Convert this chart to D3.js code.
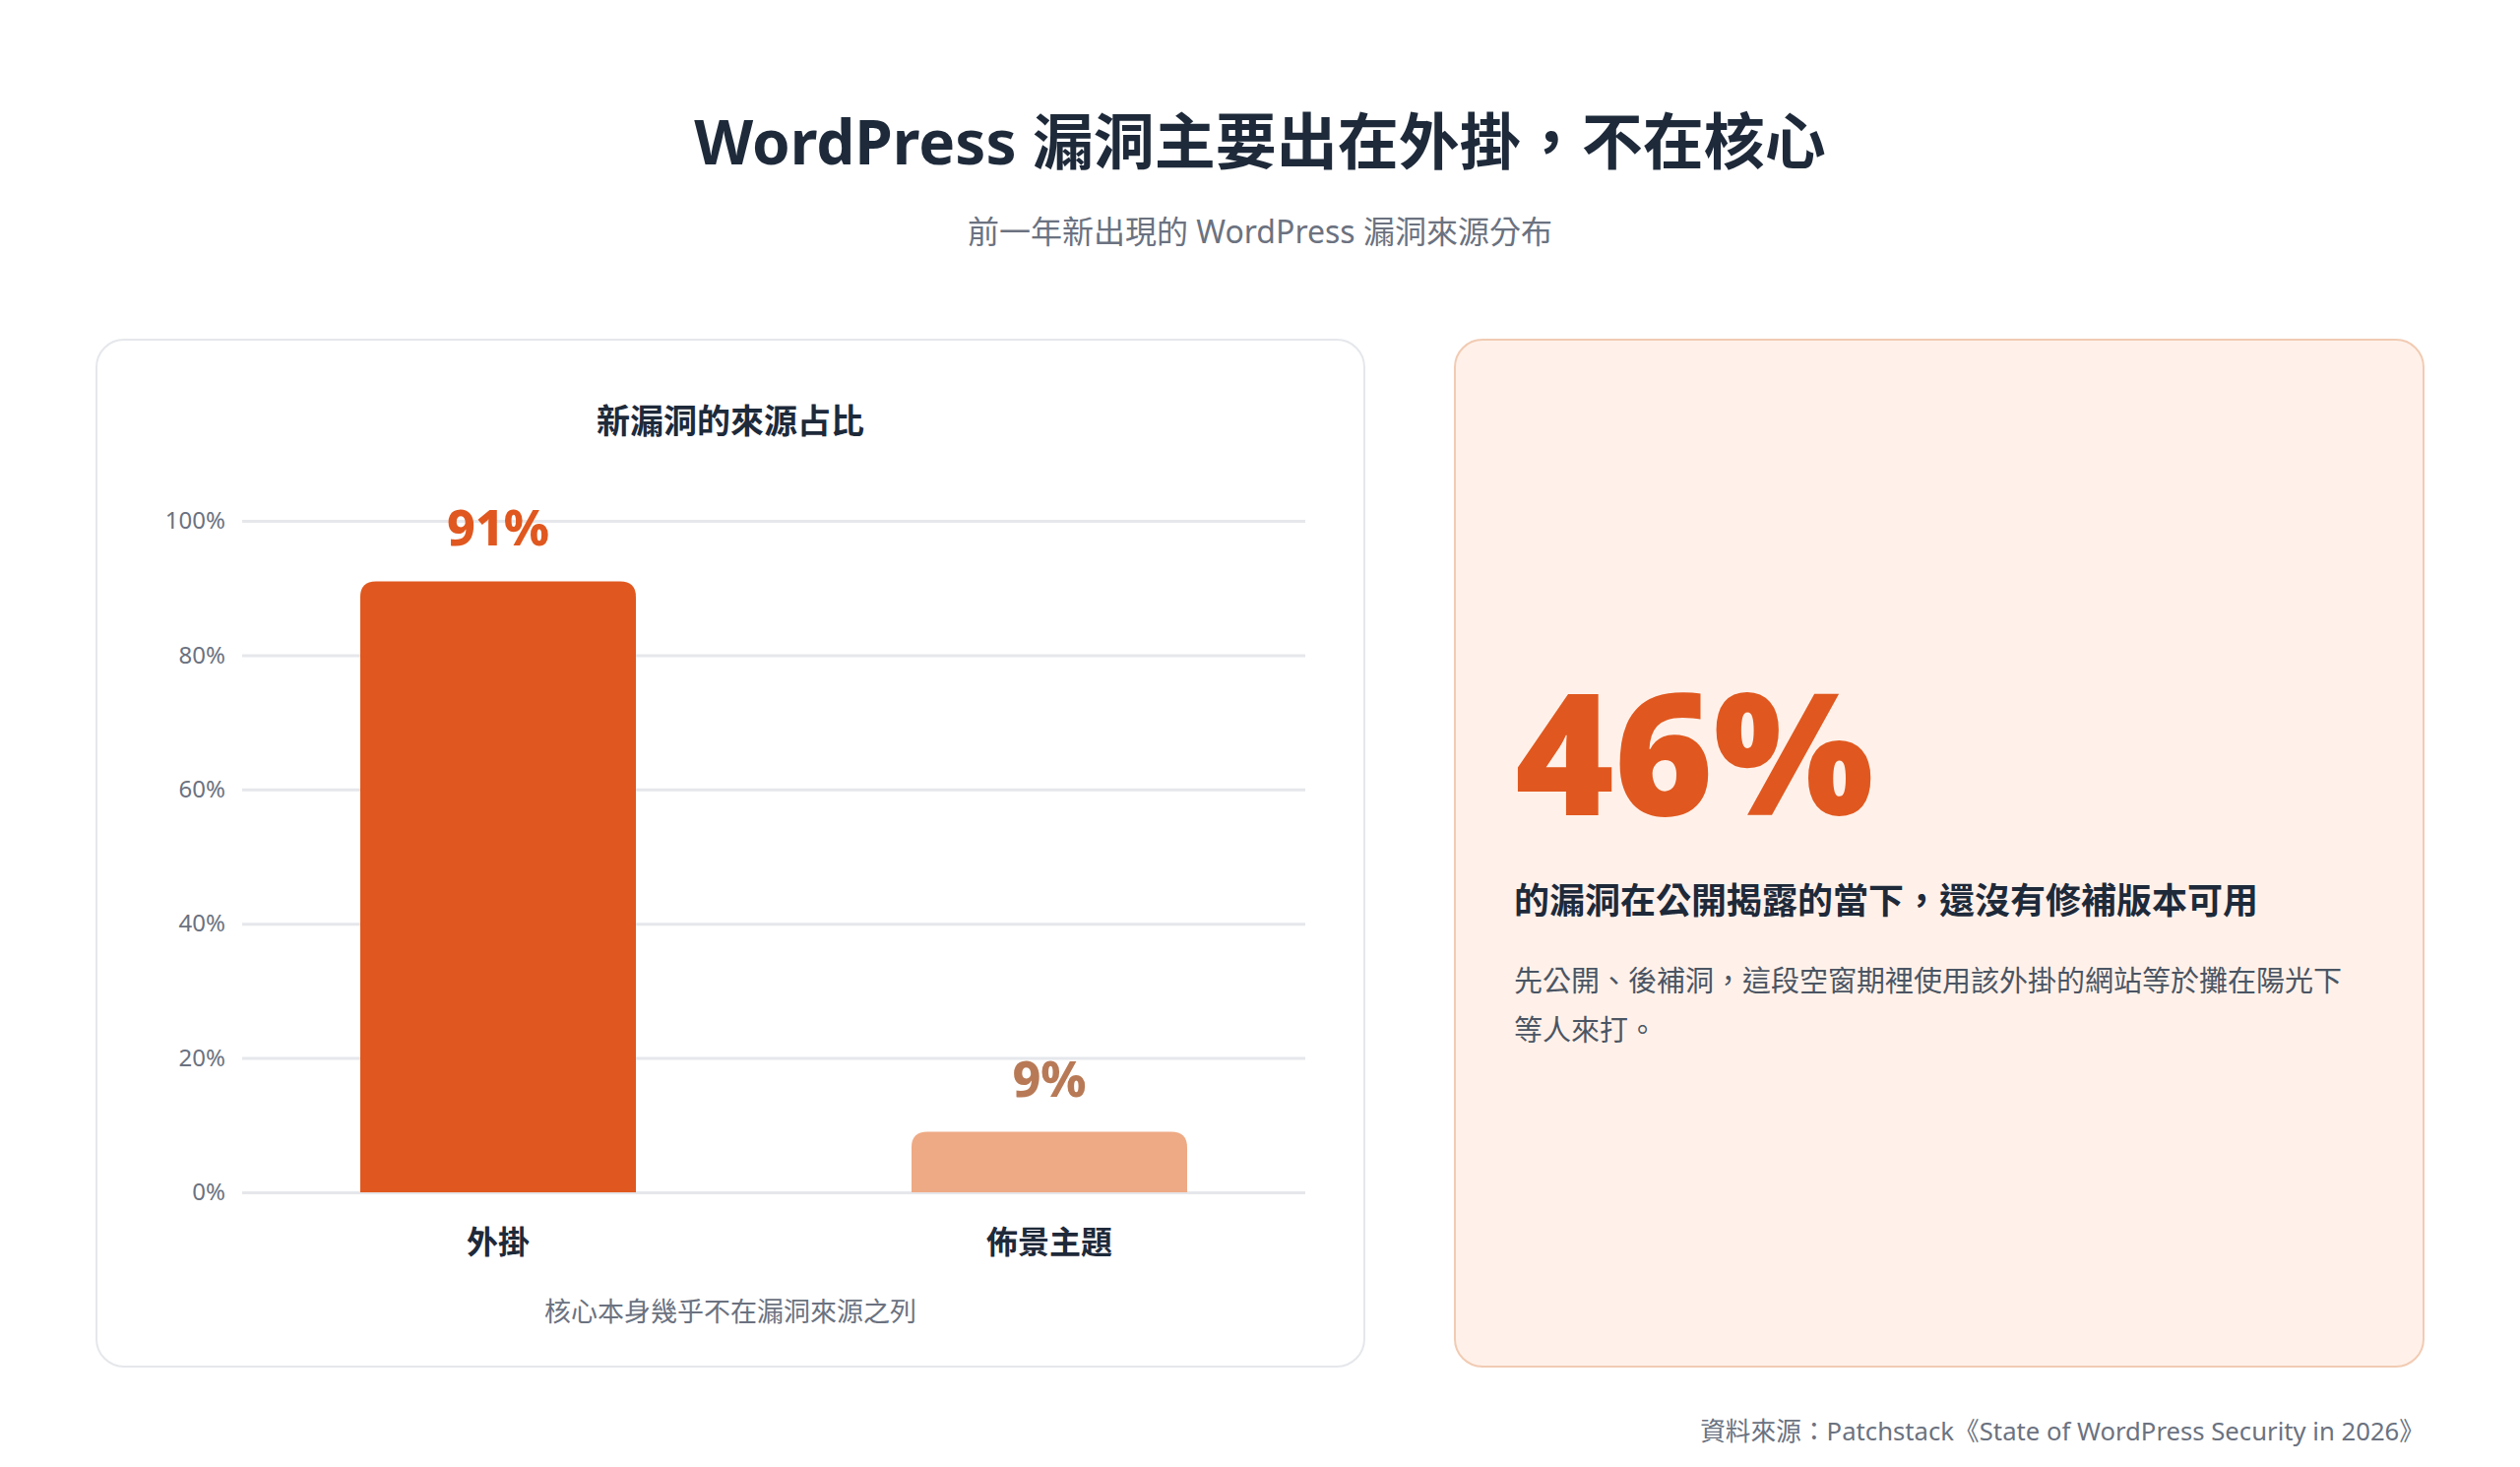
<!DOCTYPE html>
<html>
<head>
<meta charset="utf-8">
<script src="https://cdn.jsdelivr.net/npm/d3@7"></script>
<style>
	html, body {margin: 0; padding: 0; background: #ffffff;}
	svg {display: block;}
	text {font-family: "Noto Sans", "Noto Sans CJK TC", sans-serif;}
</style>
</head>
<body>
<div id="vis"></div>
<script>

var categories = ["外掛", "佈景主題"];
var shares = [91, 9];
var shareLabels = ["91%", "9%"];
var yTicks = [0, 20, 40, 60, 80, 100];

var titleText = "WordPress 漏洞主要出在外掛，不在核心";
var subtitleText = "前一年新出現的 WordPress 漏洞來源分布";
var chartTitle = "新漏洞的來源占比";
var chartNote = "核心本身幾乎不在漏洞來源之列";
var bigStat = "46%";
var statHeadline = "的漏洞在公開揭露的當下，還沒有修補版本可用";
var statBody = ["先公開、後補洞，這段空窗期裡使用該外掛的網站等於攤在陽光下", "等人來打。"];
var sourceText = "資料來源：Patchstack《State of WordPress Security in 2026》";

var W = 2560, H = 1490;
var barColors = ["#e0581f", "#eeaa85"];
var labelColors = ["#e0581f", "#b87a56"];
var dark = "#1e2a3a", grey = "#6b7280";

function draw () {

	var svg = d3.select("#vis").append("svg")
		.attr("width", W)
		.attr("height", H);

	svg.append("text")
		.attr("x", W/2)
		.attr("y", 143)
		.attr("text-anchor", "middle")
		.attr("dominant-baseline", "central")
		.attr("font-size", 62)
		.attr("font-weight", 700)
		.attr("fill", dark)
		.text(titleText);

	svg.append("text")
		.attr("x", W/2)
		.attr("y", 234)
		.attr("text-anchor", "middle")
		.attr("dominant-baseline", "central")
		.attr("font-size", 32)
		.attr("fill", grey)
		.text(subtitleText);

	// left card: bar chart
	var card = {x: 97, y: 344, w: 1290, h: 1045};

	svg.append("rect")
		.attr("x", card.x + 1)
		.attr("y", card.y + 1)
		.attr("width", card.w - 2)
		.attr("height", card.h - 2)
		.attr("rx", 28)
		.attr("fill", "#ffffff")
		.attr("stroke", "#e5e7eb")
		.attr("stroke-width", 2);

	svg.append("text")
		.attr("x", card.x + card.w/2)
		.attr("y", 427)
		.attr("text-anchor", "middle")
		.attr("dominant-baseline", "central")
		.attr("font-size", 34)
		.attr("font-weight", 700)
		.attr("fill", dark)
		.text(chartTitle);

	var x = d3.scaleBand()
		.domain(categories)
		.range([246, 1326])
		.paddingInner(0.5)
		.paddingOuter(0.2143);

	var y = d3.scaleLinear()
		.domain([0, 100])
		.range([1211, 529]);

	var yAxis = d3.axisLeft(y)
		.tickValues(yTicks)
		.tickSize(-(1326 - 246))
		.tickPadding(17)
		.tickFormat(function (d) {return d + "%"});

	var g = svg.append("g")
		.attr("transform", "translate(246,0)")
		.call(yAxis);

	g.select(".domain").remove();
	g.selectAll(".tick line")
		.attr("stroke", "#e5e7eb")
		.attr("stroke-width", 3);
	g.selectAll(".tick text")
		.attr("font-size", 24)
		.attr("fill", grey)
		.attr("font-family", "\"Noto Sans\", sans-serif");

	var bars = svg.append("g");
	var bw = x.bandwidth();
	var r = 16;

	bars.selectAll("path")
		.data(categories)
		.enter()
		.append("path")
		.attr("fill", function (d, i) {return barColors[i]})
		.attr("d", function (d, i) {
			var x0 = x(d), y0 = y(shares[i]), y1 = y(0);
			return "M" + x0 + "," + y1 +
				"V" + (y0 + r) +
				"Q" + x0 + "," + y0 + " " + (x0 + r) + "," + y0 +
				"H" + (x0 + bw - r) +
				"Q" + (x0 + bw) + "," + y0 + " " + (x0 + bw) + "," + (y0 + r) +
				"V" + y1 + "Z";
		});

	bars.selectAll(".val")
		.data(categories)
		.enter()
		.append("text")
		.attr("class", "val")
		.attr("x", function (d) {return x(d) + bw/2})
		.attr("y", function (d, i) {return y(shares[i]) - 36})
		.attr("text-anchor", "middle")
		.attr("font-size", 50)
		.attr("font-weight", 800)
		.attr("fill", function (d, i) {return labelColors[i]})
		.text(function (d, i) {return shareLabels[i]});

	bars.selectAll(".cat")
		.data(categories)
		.enter()
		.append("text")
		.attr("class", "cat")
		.attr("x", function (d) {return x(d) + bw/2})
		.attr("y", 1260)
		.attr("text-anchor", "middle")
		.attr("dominant-baseline", "central")
		.attr("font-size", 32)
		.attr("font-weight", 700)
		.attr("fill", dark)
		.text(function (d) {return d});

	svg.append("text")
		.attr("x", card.x + card.w/2)
		.attr("y", 1331)
		.attr("text-anchor", "middle")
		.attr("dominant-baseline", "central")
		.attr("font-size", 27)
		.attr("fill", grey)
		.text(chartNote);

	// right card: key stat
	var card2 = {x: 1477, y: 344, w: 986, h: 1045};
	var tx = 1538;

	svg.append("rect")
		.attr("x", card2.x + 1)
		.attr("y", card2.y + 1)
		.attr("width", card2.w - 2)
		.attr("height", card2.h - 2)
		.attr("rx", 28)
		.attr("fill", "#fff1ea")
		.attr("stroke", "#f1cbb3")
		.attr("stroke-width", 2);

	svg.append("text")
		.attr("x", tx + 1)
		.attr("y", 828)
		.attr("font-size", 172)
		.attr("font-weight", 900)
		.attr("fill", "#e0581f")
		.text(bigStat);

	svg.append("text")
		.attr("x", tx)
		.attr("y", 914)
		.attr("dominant-baseline", "central")
		.attr("font-size", 36)
		.attr("font-weight", 700)
		.attr("fill", dark)
		.text(statHeadline);

	svg.append("text")
		.attr("font-size", 29)
		.attr("fill", "#4b5563")
		.selectAll("tspan")
		.data(statBody)
		.enter()
		.append("tspan")
		.attr("x", tx)
		.attr("y", function (d, i) {return 995 + i*50})
		.attr("dominant-baseline", "central")
		.text(function (d) {return d});

	svg.append("text")
		.attr("x", 2463)
		.attr("y", 1453)
		.attr("text-anchor", "end")
		.attr("dominant-baseline", "central")
		.attr("font-size", 25.7)
		.attr("fill", grey)
		.text(sourceText);
}

draw();
</script>
</body>
</html>
